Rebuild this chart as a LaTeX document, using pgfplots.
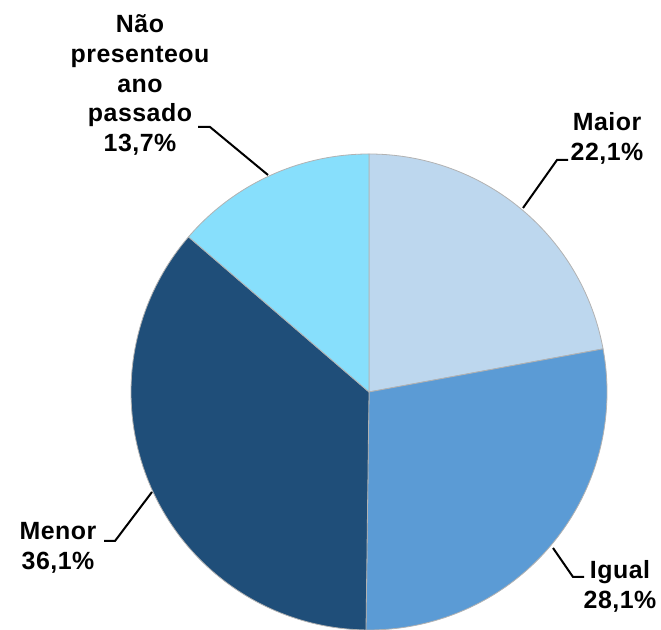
\documentclass[border=0pt]{standalone}
\usepackage{fontspec}
\setmainfont{Liberation Sans}
\usepackage{pgfplots}
\pgfplotsset{compat=1.18}
\definecolor{cMaior}{HTML}{BDD7EE}
\definecolor{cIgual}{HTML}{5B9BD5}
\definecolor{cMenor}{HTML}{1F4E79}
\definecolor{cNao}{HTML}{87DFFC}
\newfontfamily\lblfont{Liberation Sans}[LetterSpace=2.0]
\tikzset{lbl/.style={font=\lblfont\fontsize{12.5}{15}\selectfont\bfseries, align=center, inner sep=0pt}}
\begin{document}
\begin{tikzpicture}
% shares (percent)
\def\vMaior{22.1}\def\vIgual{28.1}\def\vMenor{36.1}\def\vNao{13.7}
\pgfmathsetmacro{\aA}{90}
\pgfmathsetmacro{\aB}{\aA-3.6*\vMaior}
\pgfmathsetmacro{\aC}{\aB-3.6*\vIgual}
\pgfmathsetmacro{\aD}{\aC-3.6*\vMenor}
\pgfmathsetmacro{\aE}{\aD-3.6*\vNao}
\def\cx{369}\def\cy{238}\def\R{238}
\begin{axis}[
  scale only axis, width=330.5bp, height=315bp,
  xmin=0, xmax=661, ymin=0, ymax=630,
  hide axis, clip=false,
]
\addplot[fill=cMaior, draw=black!30, line width=0.4pt, domain=\aB:\aA, samples=100, variable=\t]
  ({\cx+\R*cos(\t)},{\cy+\R*sin(\t)}) -- (axis cs:\cx,\cy) -- cycle;
\addplot[fill=cIgual, draw=black!30, line width=0.4pt, domain=\aC:\aB, samples=100, variable=\t]
  ({\cx+\R*cos(\t)},{\cy+\R*sin(\t)}) -- (axis cs:\cx,\cy) -- cycle;
\addplot[fill=cMenor, draw=black!30, line width=0.4pt, domain=\aD:\aC, samples=100, variable=\t]
  ({\cx+\R*cos(\t)},{\cy+\R*sin(\t)}) -- (axis cs:\cx,\cy) -- cycle;
\addplot[fill=cNao, draw=black!30, line width=0.4pt, domain=\aE:\aD, samples=100, variable=\t]
  ({\cx+\R*cos(\t)},{\cy+\R*sin(\t)}) -- (axis cs:\cx,\cy) -- cycle;
% leader lines
\addplot[black, line width=1bp] coordinates {(198,503) (210,503) (268,455)};
\addplot[black, line width=1bp] coordinates {(568,470) (557,470) (523,422)};
\addplot[black, line width=1bp] coordinates {(104,89) (115,89) (152,138)};
\addplot[black, line width=1bp] coordinates {(553,82) (573,53) (584,53)};
% labels
\node[lbl] at (axis cs:140,545) {Não\\presenteou\\ano\\passado\\13,7\%};
\node[lbl] at (axis cs:607,492) {Maior\\22,1\%};
\node[lbl] at (axis cs:58,82) {Menor\\36,1\%};
\node[lbl] at (axis cs:620,44) {Igual\\28,1\%};
\end{axis}
\pgfresetboundingbox
\path[use as bounding box] (current axis.south west) rectangle (current axis.north east);
\end{tikzpicture}
\end{document}
